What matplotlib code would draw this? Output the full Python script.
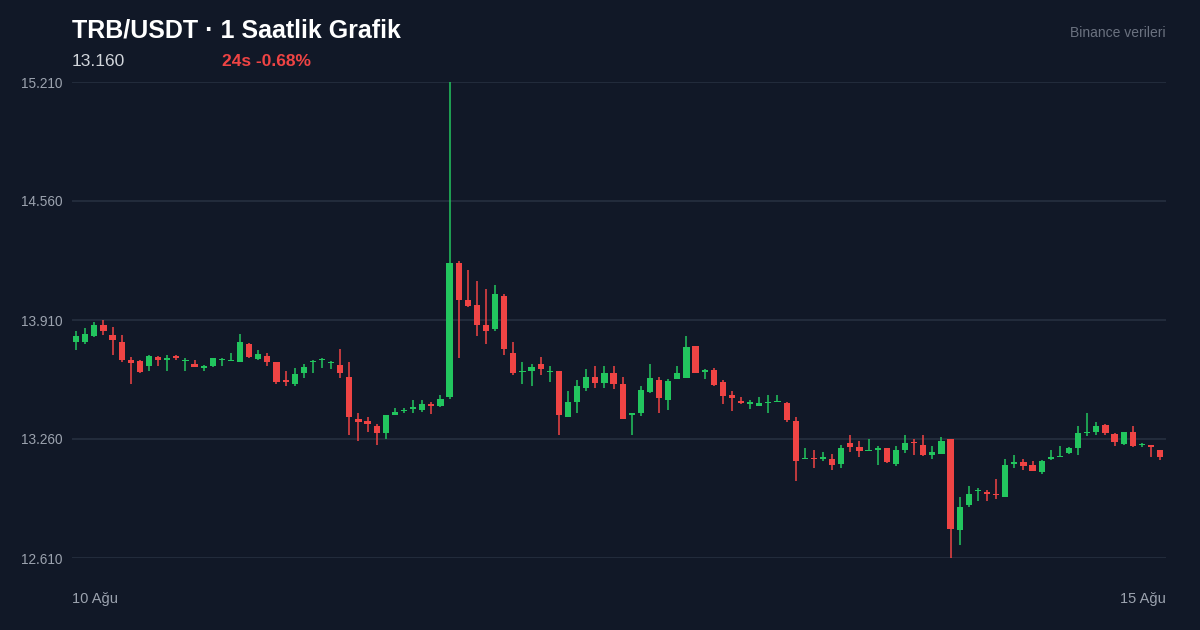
import matplotlib
matplotlib.use("Agg")
import matplotlib.pyplot as plt
import numpy as np

plt.rcParams['font.family'] = ['Liberation Sans', 'DejaVu Sans']

opens = [13.790,13.790,13.822,13.883,13.828,13.790,13.691,13.686,13.659,13.708,
         13.691,13.713,13.686,13.670,13.648,13.659,13.691,13.686,13.680,13.779,
         13.697,13.713,13.680,13.582,13.560,13.620,13.680,13.691,13.675,13.664,
         13.599,13.369,13.358,13.331,13.293,13.391,13.413,13.424,13.418,13.451,
         13.440,13.489,14.221,14.019,13.992,13.883,13.861,14.041,13.730,13.626,
         13.631,13.670,13.626,13.631,13.380,13.462,13.538,13.599,13.566,13.620,
         13.560,13.391,13.402,13.516,13.582,13.473,13.588,13.593,13.768,13.626,
         13.637,13.571,13.500,13.467,13.451,13.440,13.456,13.462,13.456,13.358,
         13.151,13.156,13.151,13.151,13.124,13.238,13.216,13.195,13.200,13.211,
         13.124,13.200,13.244,13.227,13.173,13.178,13.260,12.763,12.900,12.977,
         12.971,12.960,12.944,13.124,13.134,13.118,13.080,13.151,13.162,13.184,
         13.211,13.293,13.298,13.337,13.287,13.233,13.298,13.227,13.227,13.200]
closes = [13.822,13.833,13.883,13.850,13.801,13.691,13.675,13.626,13.713,13.691,
          13.702,13.702,13.691,13.653,13.659,13.702,13.697,13.691,13.790,13.708,
          13.724,13.680,13.571,13.571,13.615,13.653,13.686,13.697,13.680,13.620,
          13.380,13.353,13.342,13.293,13.391,13.407,13.418,13.435,13.451,13.440,
          13.478,14.221,14.019,13.986,13.883,13.850,14.052,13.751,13.620,13.631,
          13.653,13.642,13.631,13.391,13.462,13.549,13.599,13.566,13.620,13.560,
          13.369,13.402,13.527,13.593,13.484,13.577,13.620,13.762,13.620,13.637,
          13.555,13.495,13.484,13.456,13.462,13.456,13.462,13.467,13.364,13.140,
          13.156,13.151,13.162,13.118,13.211,13.216,13.195,13.200,13.211,13.134,
          13.200,13.238,13.238,13.173,13.189,13.249,12.769,12.889,12.960,12.982,
          12.960,12.955,13.118,13.134,13.113,13.086,13.140,13.162,13.167,13.211,
          13.293,13.298,13.331,13.293,13.244,13.298,13.222,13.233,13.216,13.162]
highs = [13.850,13.866,13.899,13.910,13.872,13.828,13.708,13.691,13.719,13.713,
         13.719,13.719,13.702,13.691,13.664,13.702,13.702,13.730,13.833,13.784,
         13.746,13.730,13.680,13.631,13.648,13.670,13.691,13.702,13.686,13.751,
         13.680,13.402,13.380,13.342,13.391,13.429,13.429,13.473,13.473,13.462,
         13.500,15.210,14.232,14.183,14.123,14.079,14.101,14.052,13.790,13.680,
         13.670,13.708,13.659,13.631,13.522,13.582,13.642,13.659,13.659,13.659,
         13.599,13.402,13.549,13.670,13.599,13.588,13.659,13.822,13.768,13.642,
         13.648,13.582,13.522,13.489,13.473,13.489,13.500,13.500,13.462,13.380,
         13.211,13.200,13.189,13.178,13.227,13.282,13.249,13.260,13.222,13.211,
         13.222,13.282,13.260,13.282,13.222,13.271,13.260,12.943,13.004,12.993,
         12.982,13.042,13.151,13.173,13.151,13.140,13.146,13.200,13.222,13.216,
         13.331,13.402,13.353,13.342,13.293,13.298,13.331,13.238,13.227,13.200]
lows = [13.746,13.779,13.817,13.828,13.719,13.680,13.560,13.620,13.631,13.659,
        13.631,13.691,13.631,13.653,13.631,13.653,13.659,13.686,13.680,13.702,
        13.691,13.659,13.560,13.549,13.549,13.593,13.620,13.648,13.642,13.593,
        13.282,13.249,13.298,13.227,13.260,13.391,13.402,13.402,13.407,13.397,
        13.435,13.478,13.702,13.981,13.822,13.779,13.850,13.719,13.609,13.560,
        13.549,13.609,13.571,13.282,13.380,13.402,13.522,13.538,13.538,13.533,
        13.369,13.282,13.386,13.511,13.402,13.418,13.588,13.593,13.620,13.588,
        13.549,13.451,13.413,13.451,13.424,13.440,13.402,13.462,13.353,13.031,
        13.151,13.102,13.140,13.091,13.102,13.189,13.162,13.195,13.118,13.129,
        13.113,13.184,13.173,13.167,13.151,13.178,12.610,12.681,12.889,12.922,
        12.922,12.933,12.944,13.102,13.091,13.086,13.069,13.146,13.162,13.178,
        13.173,13.276,13.282,13.282,13.222,13.227,13.216,13.216,13.162,13.146]

y_ticks = [12.610, 13.260, 13.910, 14.560, 15.210]
x_labels = ["10 Ağu", "15 Ağu"]
title = "TRB/USDT · 1 Saatlik Grafik"
last_price = "13.160"
change = "24s -0.68%"
source = "Binance verileri"

BG = "#111827"
GREEN = "#22c55e"
RED = "#ef4444"
GRID = "#263040"
TXT = "#9ca3af"

fig = plt.figure(figsize=(12, 6.3), dpi=100, facecolor=BG)
ax = fig.add_axes([72/1200, 72/630, 1094/1200, 476/630], facecolor=BG)

o = np.array(opens); c = np.array(closes); h = np.array(highs); l = np.array(lows)
x = np.arange(len(o))
col = np.where(c >= o, GREEN, RED)
ax.vlines(x, l, h, colors=col, linewidth=1.1, zorder=3)
bot = np.minimum(o, c)
hgt = np.maximum(np.abs(c - o), 0.006)
ax.bar(x, hgt, bottom=bot, width=0.68, color=col, zorder=4, linewidth=0)

ax.set_xlim(-0.45, len(o) - 1 + 0.65)
ax.set_ylim(y_ticks[0], y_ticks[-1])
ax.set_yticks(y_ticks)
ax.set_yticklabels([f"{v:.3f}" for v in y_ticks])
ax.yaxis.grid(True, color=GRID, linewidth=1.2, zorder=0)
ax.set_xticks([])
ax.tick_params(axis='y', length=0, pad=7, colors=TXT, labelsize=9.8)
for s in ax.spines.values():
    s.set_visible(False)

fig.text(72/1200, 1-31/630, title, color="white", fontsize=18, fontweight="bold", va="center", ha="left")
fig.text(72/1200, 1-61/630, last_price, color="#d1d5db", fontsize=12.5, va="center", ha="left")
fig.text(222/1200, 1-61/630, change, color=RED, fontsize=12.5, fontweight="bold", va="center", ha="left")
fig.text(1166/1200, 1-33/630, source, color="#6b7280", fontsize=10, va="center", ha="right")
fig.text(72/1200, 1-599/630, x_labels[0], color=TXT, fontsize=10.5, va="center", ha="left")
fig.text(1166/1200, 1-599/630, x_labels[1], color=TXT, fontsize=10.5, va="center", ha="right")

fig.savefig("out.png", dpi=100, facecolor=BG)
